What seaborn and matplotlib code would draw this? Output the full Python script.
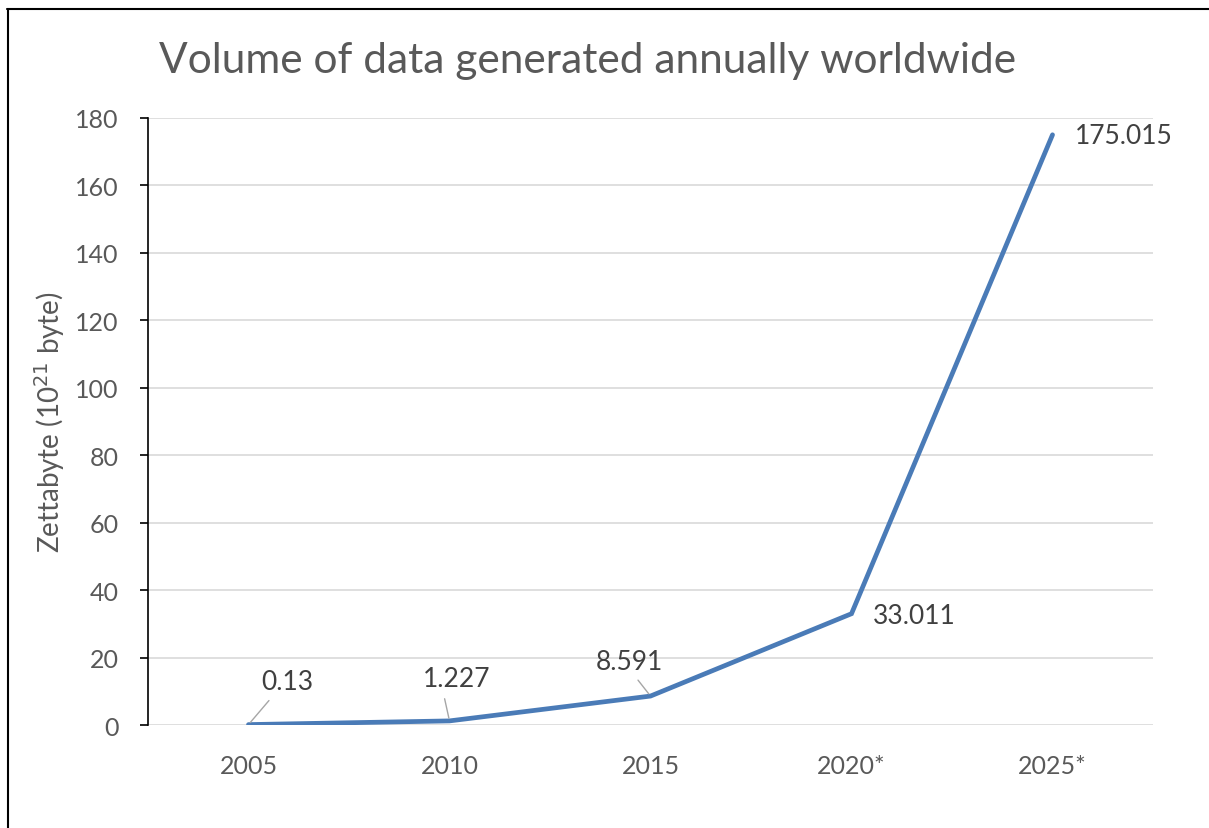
import matplotlib
matplotlib.use("Agg")
import matplotlib.pyplot as plt
from matplotlib.lines import Line2D
import seaborn as sns
import pandas as pd

# Annual data volume worldwide (zettabytes); starred years are forecasts
years = ["2005", "2010", "2015", "2020*", "2025*"]
volume_zb = [0.13, 1.227, 8.591, 33.011, 175.015]
value_labels = ["0.13", "1.227", "8.591", "33.011", "175.015"]
y_ticks = [0, 20, 40, 60, 80, 100, 120, 140, 160, 180]

df = pd.DataFrame({"year": years, "volume": volume_zb})

sns.set_style("white")
plt.rcParams["font.family"] = ["Lato", "DejaVu Sans"]

TEXT = "#595959"
LABEL = "#404040"
LINE = "#4a7bb7"
GRID = "#d9d9d9"

fig = plt.figure(figsize=(12.09, 8.29), dpi=100)
ax = fig.add_axes([0.1224, 0.1242, 0.8313, 0.7323])

sns.lineplot(data=df, x="year", y="volume", sort=False, ax=ax,
             color=LINE, linewidth=3.4, solid_joinstyle="miter", zorder=3)

ax.set_xlim(-0.5, len(years) - 0.5)
ax.set_ylim(0, 180)
ax.set_yticks(y_ticks)
ax.yaxis.grid(True, color=GRID, linewidth=1.2, zorder=0)
ax.set_axisbelow(True)

for side in ("top", "right", "bottom"):
    ax.spines[side].set_visible(False)
ax.spines["left"].set_color("black")
ax.spines["left"].set_linewidth(1.2)

ax.tick_params(axis="y", which="major", left=True, direction="out", length=6,
               width=1.2, color="black", labelsize=18, labelcolor=TEXT, pad=15)
ax.tick_params(axis="x", bottom=False, length=0, labelsize=18,
               labelcolor=TEXT, pad=21)

ax.set_xlabel("")
ax.set_ylabel("Zettabyte (10$^{21}$ byte)", fontsize=20, color=TEXT, labelpad=6)

fig.suptitle("Volume of data generated annually worldwide", x=0.486, y=0.926,
             fontsize=30.5, color=TEXT, ha="center", va="center")

# Value labels (offsets in pixels from each point); some with leader lines
label_styles = [
    dict(offset=(39, 43), ha="center", va="center", leader=(0.25, 0.0)),
    dict(offset=(7, 42), ha="center", va="center", leader=(0.3, 0.0)),
    dict(offset=(-21, 35), ha="center", va="center", leader=(0.55, 0.0)),
    dict(offset=(21, -2), ha="left", va="center", leader=None),
    dict(offset=(22, -1), ha="left", va="center", leader=None),
]
for i, (txt, val, st) in enumerate(zip(value_labels, volume_zb, label_styles)):
    arrow = None
    if st["leader"] is not None:
        arrow = dict(arrowstyle="-", color="#a6a6a6", lw=1.0,
                     shrinkA=3, shrinkB=2, relpos=st["leader"])
    ax.annotate(txt, xy=(i, val), xytext=st["offset"], textcoords="offset pixels",
                ha=st["ha"], va=st["va"], fontsize=19, color=LABEL,
                arrowprops=arrow, zorder=4)

# Frame lines along the top and left edges of the figure
fig.add_artist(Line2D([0.006, 1.0], [0.9875, 0.9875], transform=fig.transFigure,
                      color="black", linewidth=1.5))
fig.add_artist(Line2D([0.0066, 0.0066], [0.0, 0.9875], transform=fig.transFigure,
                      color="black", linewidth=1.5))

fig.savefig("out.png", dpi=100, facecolor="white")
